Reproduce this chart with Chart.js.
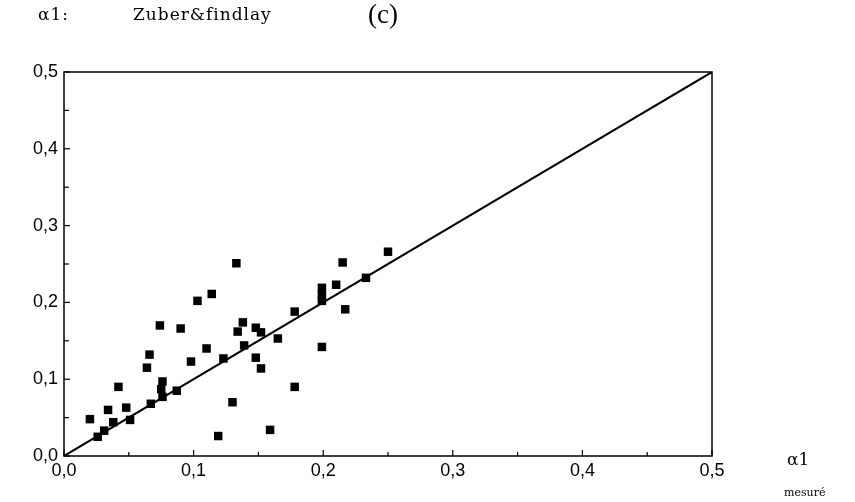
<!DOCTYPE html>
<html>
<head>
<meta charset="utf-8">
<script src="https://cdn.jsdelivr.net/npm/chart.js@4"></script>
<style>
  html, body { margin: 0; padding: 0; background: #fff; }
  #wrap { width: 855px; height: 502px; position: relative; }
</style>
</head>
<body>
<div id="wrap"><canvas id="alpha"></canvas></div>
<script>
// alpha1 measured (x) vs alpha1 calculated with Zuber & Findlay (y)
var xMeasured = [0.020, 0.026, 0.031, 0.034, 0.038, 0.042, 0.048, 0.051, 0.064, 0.066,
                 0.067, 0.074, 0.075, 0.076, 0.076, 0.087, 0.090, 0.098, 0.103, 0.110,
                 0.114, 0.119, 0.123, 0.130, 0.133, 0.134, 0.138, 0.139, 0.148, 0.148,
                 0.152, 0.152, 0.159, 0.165, 0.178, 0.178, 0.199, 0.199, 0.199, 0.199,
                 0.210, 0.215, 0.217, 0.233, 0.250];
var yCalculated = [0.048, 0.025, 0.033, 0.060, 0.044, 0.090, 0.063, 0.047, 0.115, 0.132,
                   0.068, 0.170, 0.087, 0.097, 0.077, 0.085, 0.166, 0.123, 0.202, 0.140,
                   0.211, 0.026, 0.127, 0.070, 0.251, 0.162, 0.174, 0.144, 0.167, 0.128,
                   0.161, 0.114, 0.034, 0.153, 0.188, 0.090, 0.219, 0.210, 0.202, 0.142,
                   0.223, 0.252, 0.191, 0.232, 0.266];
var diagonalX = [0, 0.5];
var diagonalY = [0, 0.5];

var axisMin = 0;
var axisMax = 0.5;
var tickStep = 0.05;

function fmtTick(v){
    var hundredths = Math.round(v*100);
    if (hundredths % 10 !== 0) return '';
    return (hundredths/100).toFixed(1).replace('.', ',');
}

function toPoints(xs, ys){
    var pts = [];
    for (var i=0;i<xs.length;i++){
        pts.push({x: xs[i], y: ys[i]});
    }
    return pts;
}

// frame, inward ticks and the free text around the plot
var decorations = {
    id: 'decorations',
    afterDraw: function(chart){
        var ctx = chart.ctx;
        var a = chart.chartArea;
        var xs = chart.scales.x;
        var ys = chart.scales.y;
        ctx.save();
        ctx.strokeStyle = '#000';
        ctx.lineWidth = 1.5;
        ctx.strokeRect(a.left, a.top, a.right-a.left, a.bottom-a.top);

        ctx.lineWidth = 1.2;
        xs.ticks.forEach(function(t){
            var px = xs.getPixelForValue(t.value);
            var len = fmtTick(t.value) ? 6 : 4;
            ctx.beginPath();
            ctx.moveTo(px, a.bottom);
            ctx.lineTo(px, a.bottom-len);
            ctx.stroke();
        });
        ys.ticks.forEach(function(t){
            var py = ys.getPixelForValue(t.value);
            var len = fmtTick(t.value) ? 6 : 5;
            ctx.beginPath();
            ctx.moveTo(a.left, py);
            ctx.lineTo(a.left+len, py);
            ctx.stroke();
        });

        ctx.fillStyle = '#000';
        ctx.textBaseline = 'middle';
        ctx.textAlign = 'left';
        ctx.letterSpacing = '1px';
        ctx.font = '17px "DejaVu Serif"';
        ctx.fillText('\u03b11:', 38, 16);
        ctx.fillText('Zuber&findlay', 133, 16);
        ctx.letterSpacing = '0px';
        ctx.font = '27px "Liberation Serif"';
        ctx.fillText('(c)', 368, 16);
        ctx.font = '17px "DejaVu Serif"';
        ctx.fillText('\u03b11', 787, 461);
        ctx.font = '11px "DejaVu Serif"';
        ctx.fillText('mesur\u00e9', 784, 493);
        ctx.restore();
    }
};

var ctx = document.getElementById('alpha').getContext('2d');
var chart = new Chart(ctx, {
    type: 'scatter',
    data: {
        datasets: [{
            label: 'Zuber & Findlay',
            data: toPoints(xMeasured, yCalculated),
            backgroundColor: '#000',
            borderColor: '#000',
            pointStyle: 'rect',
            pointRadius: 6,
            pointBorderWidth: 0
        },
        {
            label: 'y = x',
            data: toPoints(diagonalX, diagonalY),
            showLine: true,
            borderColor: '#000',
            borderWidth: 2,
            pointRadius: 0,
            fill: false
        }]
    },
    plugins: [decorations],
    options: {
        responsive: true,
        maintainAspectRatio: false,
        animation: false,
        layout: { padding: { top: 72, right: 143, left: 0, bottom: 0 } },
        plugins: {
            legend: { display: false },
            tooltip: { enabled: false },
            title: { display: false }
        },
        scales: {
            x: {
                type: 'linear',
                min: axisMin,
                max: axisMax,
                grid: { display: false, drawTicks: false },
                border: { display: false },
                afterFit: function(s){ s.height = 46; },
                ticks: {
                    stepSize: tickStep,
                    autoSkip: false,
                    maxRotation: 0,
                    padding: 4,
                    color: '#000',
                    font: { family: '"Liberation Sans"', size: 18 },
                    callback: function(v){ return fmtTick(v); }
                }
            },
            y: {
                type: 'linear',
                min: axisMin,
                max: axisMax,
                grid: { display: false, drawTicks: false },
                border: { display: false },
                afterFit: function(s){ s.width = 64; },
                ticks: {
                    stepSize: tickStep,
                    autoSkip: false,
                    padding: 6,
                    color: '#000',
                    font: { family: '"Liberation Sans"', size: 18 },
                    callback: function(v){ return fmtTick(v); }
                }
            }
        }
    }
});
</script>
</body>
</html>
